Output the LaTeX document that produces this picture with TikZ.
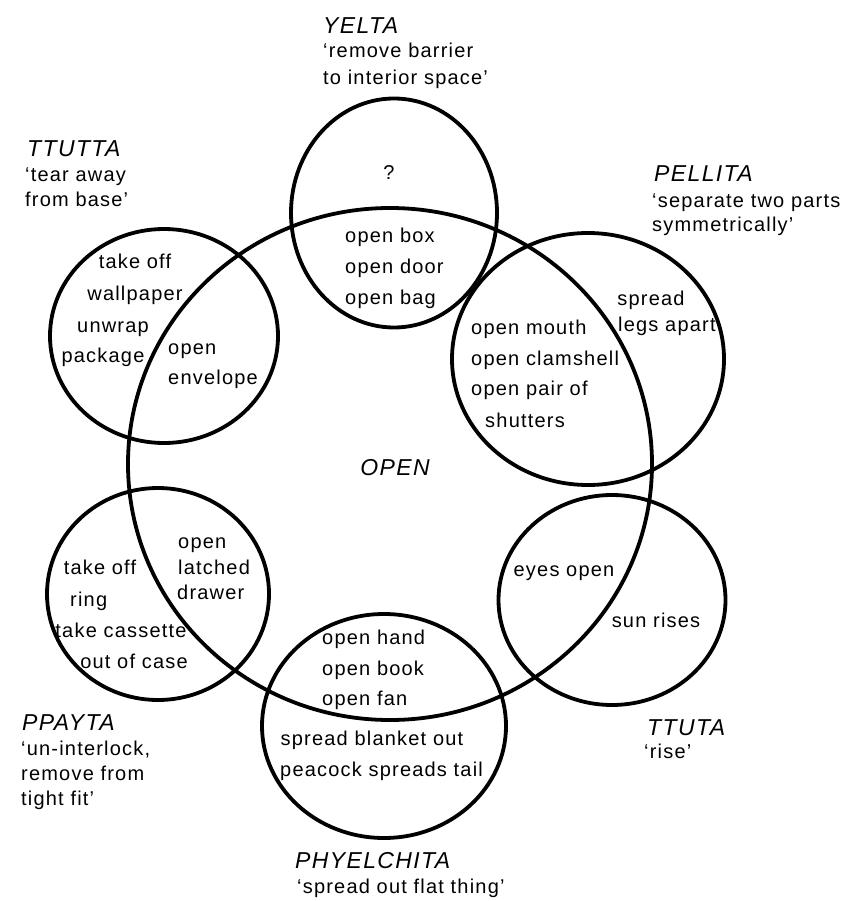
\documentclass[tikz,border=0pt]{standalone}
\usepackage{fontspec}
\setmainfont{Liberation Sans}[LetterSpace=6]
\usetikzlibrary{shapes.geometric}
\tikzset{
  ring/.style={ellipse, draw=black, line width=3.8pt, inner sep=0pt, fill=none},
  lbl/.style={font=\fontsize{20}{25}\selectfont, inner sep=0pt, text height=14pt, text depth=4pt},
  ttl/.style={font=\fontsize{23}{28}\selectfont\itshape, inner sep=0pt, text height=17pt, text depth=0pt},
}
\begin{document}
\begin{tikzpicture}[x=1pt,y=-1pt]
\useasboundingbox (0,0) rectangle (862,901);
% circles
\node[ring, minimum width=524pt, minimum height=512pt] (openc) at (390,464) {};
\node[ring, minimum width=206pt, minimum height=229pt] (yelta) at (394,213) {};
\node[ring, minimum width=228pt, minimum height=214pt] (ttutta) at (164,336) {};
\node[ring, minimum width=272pt, minimum height=252pt] (pellita) at (588,359) {};
\node[ring, minimum width=222pt, minimum height=212pt] (ppayta) at (158,594) {};
\node[ring, minimum width=227pt, minimum height=210pt] (ttuta) at (612,600) {};
\node[ring, minimum width=244pt, minimum height=224pt] (phyel) at (384,726) {};
% titles
\node[ttl, anchor=west] (tY) at (323,25) {YELTA};
\node[lbl, anchor=west] (tY1) at (323,53) {‘remove barrier};
\node[lbl, anchor=west] (tY2) at (323,80) {to interior space’};
\node[ttl, anchor=west] (tT) at (27,148) {TTUTTA};
\node[lbl, anchor=west] (tT1) at (25,177) {‘tear away};
\node[lbl, anchor=west] (tT2) at (25,202) {from base’};
\node[ttl, anchor=west] (tP) at (654,173) {PELLITA};
\node[lbl, anchor=west] (tP1) at (652,203) {‘separate two parts};
\node[lbl, anchor=west] (tP2) at (652,227) {symmetrically’};
\node[ttl, anchor=west] (tPP) at (22,722) {PPAYTA};
\node[lbl, anchor=west] (tPP1) at (21,750) {‘un-interlock,};
\node[lbl, anchor=west] (tPP2) at (21,775) {remove from};
\node[lbl, anchor=west] (tPP3) at (21,800) {tight fit’};
\node[ttl, anchor=west] (tTT) at (647,727) {TTUTA};
\node[lbl, anchor=west] (tTT1) at (644,753) {‘rise’};
\node[ttl, anchor=west] (tPH) at (295,860) {PHYELCHITA};
\node[lbl, anchor=west] (tPH1) at (297,888) {‘spread out flat thing’};
\node[ttl] (tO) at (395,467) {OPEN};
% contents
\node[lbl] (q) at (389,175) {?};
\node[lbl, anchor=west] (a1) at (345,237) {open box};
\node[lbl, anchor=west] (a2) at (345,268) {open door};
\node[lbl, anchor=west] (a3) at (345,299) {open bag};
\node[lbl] (b1) at (135,263) {take off};
\node[lbl] (b2) at (135,295) {wallpaper};
\node[lbl] (b3) at (113,327) {unwrap};
\node[lbl] (b4) at (103,357) {package};
\node[lbl, anchor=west] (b5) at (168,349) {open};
\node[lbl, anchor=west] (b6) at (168,379) {envelope};
\node[lbl] (c1) at (651,300) {spread};
\node[lbl, anchor=west] (c2) at (618,326) {legs apart};
\node[lbl, anchor=west] (c3) at (471,329) {open mouth};
\node[lbl, anchor=west] (c4) at (471,360) {open clamshell};
\node[lbl, anchor=west] (c5) at (471,390) {open pair of};
\node[lbl] (c6) at (525,422) {shutters};
\node[lbl, anchor=west] (d1) at (178,543) {open};
\node[lbl, anchor=west] (d2) at (178,569) {latched};
\node[lbl, anchor=west] (d3) at (177,594) {drawer};
\node[lbl] (d4) at (100,569) {take off};
\node[lbl, anchor=west] (d5) at (70,601) {ring};
\node[lbl] (d6) at (121,632) {take cassette};
\node[lbl] (d7) at (134,663) {out of case};
\node[lbl] (e1) at (564,571) {eyes open};
\node[lbl] (e2) at (656,622) {sun rises};
\node[lbl, anchor=west] (f1) at (322,639) {open hand};
\node[lbl, anchor=west] (f2) at (322,670) {open book};
\node[lbl, anchor=west] (f3) at (322,700) {open fan};
\node[lbl] (f4) at (372,740) {spread blanket out};
\node[lbl, anchor=west] (f5) at (280,771) {peacock spreads tail};
\end{tikzpicture}
\end{document}
